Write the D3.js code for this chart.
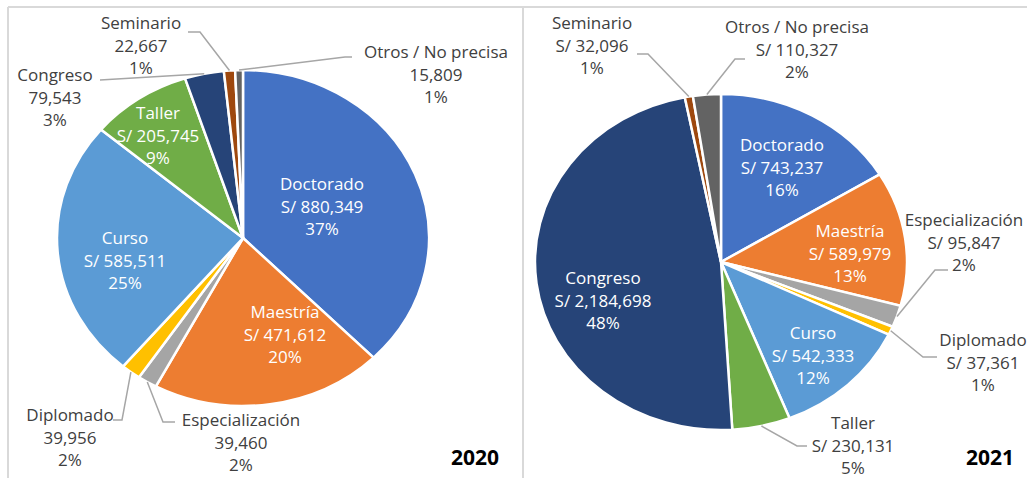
<!DOCTYPE html>
<html>
<head>
<meta charset="utf-8">
<script src="https://cdn.jsdelivr.net/npm/d3@7"></script>
<style>
  body { margin: 0; background: #fff; }
  svg { display: block; font-family: "Open Sans", Lato, sans-serif; }
</style>
</head>
<body>
<svg id="chart" width="1027" height="478"></svg>
<script>
// data
const categories = ['Doctorado', 'Maestría', 'Especialización', 'Diplomado', 'Curso',
  'Taller', 'Congreso', 'Seminario', 'Otros / No precisa'];
const values2020 = [880349, 471612, 39460, 39956, 585511, 205745, 79543, 22667, 15809];
const values2021 = [743237, 589979, 95847, 37361, 542333, 230131, 2184698, 32096, 110327];
// shares as printed on the chart
const pct2020 = [37, 20, 2, 2, 25, 9, 3, 1, 1];
const pct2021 = [16, 13, 2, 1, 12, 5, 48, 1, 2];
const colors = ['#4472c4', '#ed7d31', '#a5a5a5', '#ffc000', '#5b9bd5',
  '#70ad47', '#264478', '#9e480e', '#636363'];

// label layout: [x, first line y, inside?, leader start, leader elbow]
const layout2020 = {
  'Doctorado': [322, 184, true],
  'Maestría': [285, 312, true],
  'Curso': [125, 238, true],
  'Taller': [158, 113, true],
  'Congreso': [55, 75, false, [100, 80], [100, 80]],
  'Seminario': [141, 23, false, [188, 32], [200, 32]],
  'Otros / No precisa': [436, 52, false, [352, 57], [345, 57]],
  'Diplomado': [70, 415, false, [113, 420], [122, 420]],
  'Especialización': [241, 420, false, [175, 422], [163, 422]]
};
const layout2021 = {
  'Doctorado': [782, 145, true],
  'Maestría': [850, 231, true],
  'Curso': [813, 333, true],
  'Congreso': [603, 278, true],
  'Seminario': [592, 23, false, [637, 54], [648, 54]],
  'Otros / No precisa': [797, 27, false, [745, 59], [735, 59]],
  'Especialización': [964, 220, false, [948, 270], [935, 270]],
  'Diplomado': [983, 340, false, [937, 357], [923, 357]],
  'Taller': [853, 423, false, [807, 446], [797, 446]]
};

const svg = d3.select('#chart');
const fmt = d3.format(',');

// frame lines
const frame = [[8, 7, 1027, 7], [8, 7, 8, 478], [523, 7, 523, 478]];
svg.selectAll('line.frame')
  .data(frame)
  .join('line')
  .attr('class', 'frame')
  .attr('x1', d => d[0]).attr('y1', d => d[1])
  .attr('x2', d => d[2]).attr('y2', d => d[3])
  .attr('stroke', '#d9d9d9')
  .attr('stroke-width', 2);

function drawPie(values, pcts, opts) {
  const { cx, cy, rx, ry, labels, prefixOutside, year, yearX } = opts;
  const sx = rx / ry;
  const pie = d3.pie().sort(null).value(d => d.value);
  const arcs = pie(categories.map((c, i) => ({ name: c, value: values[i], pct: pcts[i], color: colors[i] })));
  const arc = d3.arc().innerRadius(0).outerRadius(ry);

  const g = svg.append('g');
  g.append('g')
    .attr('transform', `translate(${cx},${cy}) scale(${sx},1)`)
    .selectAll('path')
    .data(arcs)
    .join('path')
    .attr('d', arc)
    .attr('fill', d => d.data.color)
    .attr('stroke', '#fff')
    .attr('stroke-width', 2.5)
    .attr('vector-effect', 'non-scaling-stroke');

  // leader lines to the slice edge
  const outside = arcs.filter(d => !labels[d.data.name][2]);
  g.selectAll('polyline')
    .data(outside)
    .join('polyline')
    .attr('points', d => {
      const L = labels[d.data.name];
      const a = (d.startAngle + d.endAngle) / 2;
      const px = cx + sx * ry * Math.sin(a);
      const py = cy - ry * Math.cos(a);
      return [L[3], L[4], [px, py]].map(p => p.join(',')).join(' ');
    })
    .attr('fill', 'none')
    .attr('stroke', '#a6a6a6')
    .attr('stroke-width', 1.5);

  // labels
  const txt = g.selectAll('text.lbl')
    .data(arcs)
    .join('text')
    .attr('class', 'lbl')
    .attr('text-anchor', 'middle')
    .attr('font-size', 17)
    .attr('fill', d => labels[d.data.name][2] ? '#fff' : '#404040');
  txt.each(function(d) {
    const L = labels[d.data.name];
    const inside = L[2];
    const money = (inside || prefixOutside ? 'S/ ' : '') + fmt(d.data.value);
    const lines = [d.data.name, money, d.data.pct + '%'];
    d3.select(this).selectAll('tspan')
      .data(lines)
      .join('tspan')
      .attr('x', L[0])
      .attr('y', (t, i) => L[1] + 6 + i * 22.5)
      .text(t => t);
  });

  svg.append('text')
    .attr('x', yearX)
    .attr('y', 465)
    .attr('text-anchor', 'middle')
    .attr('font-size', 21)
    .attr('font-weight', 'bold')
    .attr('fill', '#000')
    .text(year);
}

drawPie(values2020, pct2020, { cx: 243, cy: 238, rx: 186, ry: 168, labels: layout2020,
  prefixOutside: false, year: '2020', yearX: 475 });
drawPie(values2021, pct2021, { cx: 721, cy: 262, rx: 186, ry: 168, labels: layout2021,
  prefixOutside: true, year: '2021', yearX: 990 });
</script>
</body>
</html>
